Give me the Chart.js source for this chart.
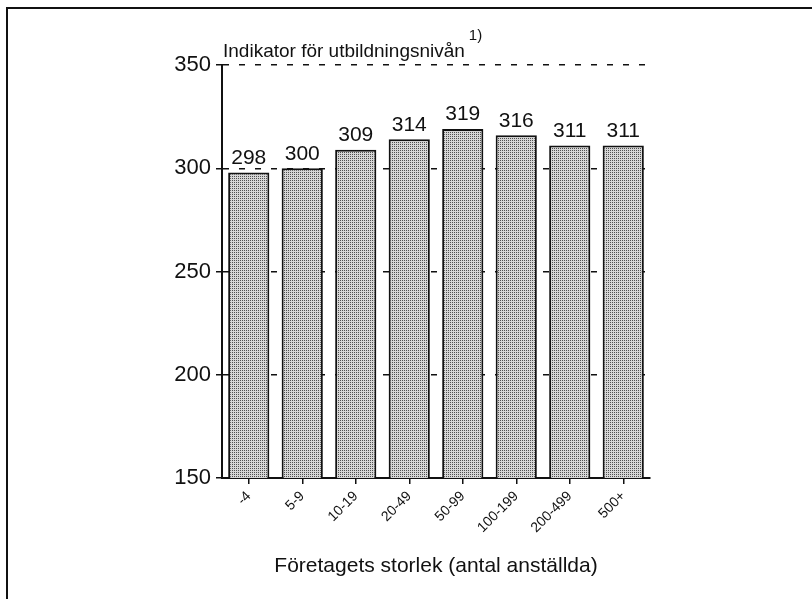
<!DOCTYPE html>
<html>
<head>
<meta charset="utf-8">
<script src="https://cdn.jsdelivr.net/npm/chart.js@4"></script>
<style>
  html, body { margin: 0; padding: 0; background: #fff; }
  #wrap { width: 812px; height: 599px; position: relative; }
</style>
</head>
<body>
<div id="wrap"><canvas id="c" width="812" height="599"></canvas></div>
<script>
const categories = ["-4", "5-9", "10-19", "20-49", "50-99", "100-199", "200-499", "500+"];
const values = [298, 300, 309, 314, 319, 316, 311, 311];
const yTicks = [150, 200, 250, 300, 350];
const yTitle = "Indikator för utbildningsnivån";
const yTitleNote = "1)";
const xTitle = "Företagets storlek (antal anställda)";

const FONT = "'Liberation Sans', Arial, sans-serif";

function stipple() {
  const p = document.createElement('canvas');
  p.width = 2; p.height = 2;
  const g = p.getContext('2d');
  g.fillStyle = '#d6d6d6'; g.fillRect(0, 0, 2, 2);
  g.fillStyle = '#505050'; g.fillRect(0, 0, 1, 1);
  return g.createPattern(p, 'repeat');
}

const decor = {
  id: 'decor',
  beforeDraw(chart) {
    const ctx = chart.ctx;
    ctx.save();
    ctx.fillStyle = '#fff';
    ctx.fillRect(0, 0, chart.width, chart.height);
    ctx.strokeStyle = '#111';
    ctx.lineWidth = 2;
    ctx.beginPath();
    ctx.moveTo(6, 8); ctx.lineTo(812, 8);
    ctx.moveTo(7, 8); ctx.lineTo(7, 599);
    ctx.stroke();
    ctx.restore();
  },
  afterDraw(chart) {
    const ctx = chart.ctx;
    const area = chart.chartArea;
    ctx.save();
    ctx.fillStyle = '#111';
    ctx.textAlign = 'left';
    ctx.textBaseline = 'alphabetic';
    ctx.font = "19px " + FONT;
    ctx.fillText(yTitle, area.left + 1, 57);
    const w = ctx.measureText(yTitle).width;
    ctx.font = "15px " + FONT;
    ctx.fillText(yTitleNote, area.left + 1 + w + 4, 40);
    // data labels
    ctx.font = "21px " + FONT;
    ctx.textAlign = 'center';
    ctx.textBaseline = 'bottom';
    const meta = chart.getDatasetMeta(0);
    meta.data.forEach((bar, i) => {
      ctx.fillText(String(values[i]), bar.x, bar.y - 4);
    });
    ctx.restore();
  }
};

new Chart(document.getElementById('c'), {
  type: 'bar',
  data: {
    labels: categories,
    datasets: [{
      data: values,
      backgroundColor: stipple(),
      borderColor: '#111',
      borderWidth: 2,
      borderSkipped: 'bottom',
      barPercentage: 0.77,
      categoryPercentage: 1.0
    }]
  },
  options: {
    responsive: false,
    animation: false,
    devicePixelRatio: 1,
    layout: { padding: { top: 65, right: 162, bottom: 0, left: 0 } },
    plugins: { legend: { display: false }, tooltip: { enabled: false }, title: { display: false } },
    scales: {
      x: {
        afterFit(s) { s.height = 121; },
        grid: { drawOnChartArea: false, drawTicks: true, tickLength: 6, offset: false, color: '#111', lineWidth: 1.5 },
        border: { display: true, color: '#111', width: 2 },
        ticks: { color: '#111', font: { family: FONT, size: 14 }, maxRotation: 45, minRotation: 45, padding: 4, autoSkip: false },
        title: { display: true, text: xTitle, color: '#111', font: { family: FONT, size: 21 }, padding: { top: 0, bottom: 20 } }
      },
      y: {
        min: 150, max: 350,
        afterFit(s) { s.width = 222; },
        afterBuildTicks(s) { s.ticks = yTicks.map(v => ({ value: v })); },
        grid: {
          drawOnChartArea: true, drawTicks: true, tickLength: 6,
          color: (c) => (c.tick && c.tick.value === 150) ? 'rgba(0,0,0,0)' : '#111',
          tickColor: '#111', lineWidth: 1.5
        },
        border: { display: true, color: '#111', width: 2, dash: [6, 10] },
        ticks: { color: '#111', font: { family: FONT, size: 22 }, padding: 5 }
      }
    }
  },
  plugins: [decor]
});
</script>
</body>
</html>
